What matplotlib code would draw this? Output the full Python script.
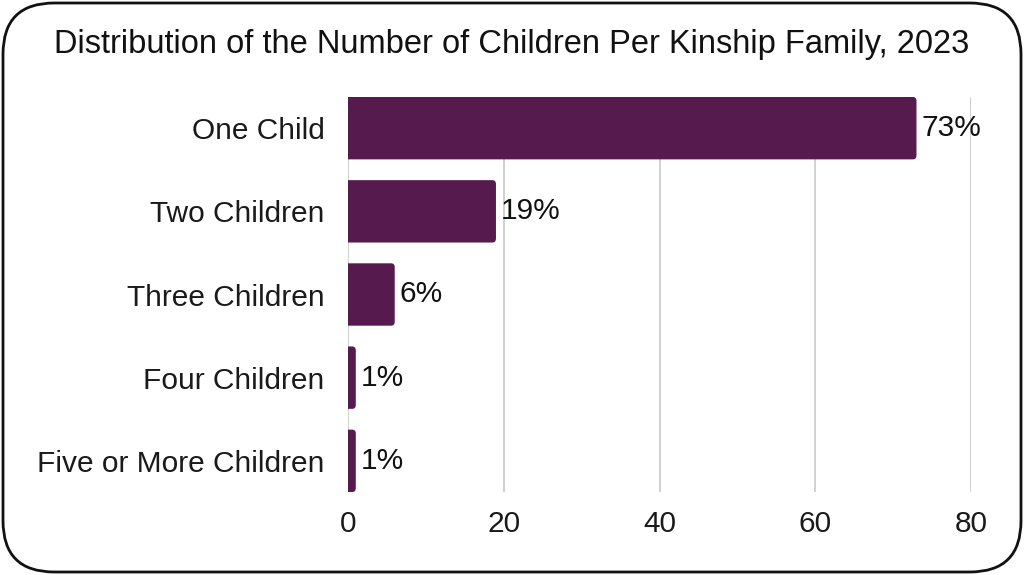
import matplotlib.pyplot as plt
from matplotlib.patches import FancyBboxPatch

plt.rcParams['font.family'] = ['Liberation Sans', 'DejaVu Sans']

categories = ["One Child", "Two Children", "Three Children", "Four Children", "Five or More Children"]
values = [73, 19, 6, 1, 1]
labels = ["73%", "19%", "6%", "1%", "1%"]
xticks = [0, 20, 40, 60, 80]

bar_color = "#561a4e"
grid_color = "#c8c8c8"

fig = plt.figure(figsize=(10.24, 5.75), dpi=100)
ax = fig.add_axes([348 / 1024, 1 - 492 / 575, (971 - 348) / 1024, (492 - 97) / 575])

y = list(range(len(categories)))
h = 0.75
# rounded bars: extend left past 0 so only the right corners show rounding
for yi, v in zip(y, values):
    box = FancyBboxPatch((-3, yi - h / 2), v + 3, h,
                         boxstyle="round,pad=0,rounding_size=0.45",
                         mutation_aspect=0.107,
                         facecolor=bar_color, edgecolor="none", zorder=3)
    ax.add_patch(box)
    ax.text(v + 0.6, yi, labels[yi], va="center", ha="left", fontsize=21.5, color="#111111")

ax.set_xlim(0, 80)
ax.set_ylim(len(categories) - 1 + 0.375, -0.375)
ax.set_yticks(y)
ax.set_yticklabels(categories, fontsize=21.5, color="#1a1a1a")
ax.set_xticks(xticks)
ax.set_xticklabels([str(t) for t in xticks], fontsize=21.5, color="#1a1a1a")
ax.tick_params(length=0)
ax.tick_params(axis="y", pad=17)
ax.tick_params(axis="x", pad=13)
for s in ax.spines.values():
    s.set_visible(False)
ax.grid(axis="x", color=grid_color, linewidth=1.2, zorder=0)
ax.set_axisbelow(True)

fig.text(0.5, 1 - 45 / 575, "Distribution of the Number of Children Per Kinship Family, 2023",
         ha="center", va="center", fontsize=23.5, color="#111111")

frame = FancyBboxPatch((3 / 1024, 3 / 575), 1018 / 1024, 569 / 575,
                       boxstyle="round,pad=0,rounding_size=0.05",
                       mutation_aspect=1024 / 575,
                       transform=fig.transFigure, facecolor="none",
                       edgecolor="#111111", linewidth=2)
fig.patches.append(frame)

fig.savefig("out.png", dpi=100)
